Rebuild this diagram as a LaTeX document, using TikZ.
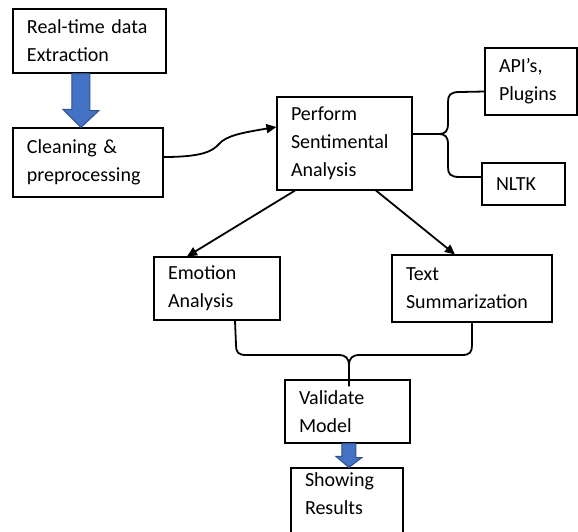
\documentclass[tikz,border=0pt]{standalone}
\usepackage{fontspec}
\setmainfont{Carlito}
\usetikzlibrary{arrows.meta,calc}
\definecolor{arrowblue}{HTML}{4472C4}
\definecolor{arrowedge}{HTML}{2F528F}
\begin{document}
\begin{tikzpicture}[x=1pt,y=-1pt,
  box/.style={draw, line width=1.1pt, rectangle, inner xsep=14pt, inner ysep=2pt, align=left, font=\fontsize{20}{28}\selectfont},
  conn/.style={line width=1.8pt},
  arr/.style={conn, -{Triangle[length=10pt,width=9pt]}},
  blockarrow/.style={fill=arrowblue, draw=arrowedge, line width=1pt, line join=miter}]
\useasboundingbox (0,0) rectangle (578,531);

\node[box, minimum width=153pt, text width=125pt, minimum height=64pt] (a) at (89.5,41) {Real-time data\\Extraction};
\node[box, minimum width=150pt, text width=122pt, minimum height=69pt] (b) at (88,162.5) {Cleaning \&\\preprocessing};
\node[box, minimum width=135pt, text width=107pt, minimum height=93pt] (c) at (344.5,143.5) {Perform\\Sentimental\\Analysis};
\node[box, minimum width=92pt, text width=64pt, minimum height=67pt] (d) at (531,81.5) {API’s,\\Plugins};
\node[box, minimum width=83pt, text width=55pt, minimum height=42pt] (e) at (523.5,184) {NLTK};
\node[box, minimum width=126pt, text width=98pt, minimum height=63pt] (f) at (217,288.5) {Emotion\\Analysis};
\node[box, minimum width=160pt, text width=132pt, minimum height=67pt] (g) at (472,288.5) {Text\\Summarization};
\node[box, minimum width=125pt, text width=97pt, minimum height=63pt] (h) at (347.5,411.5) {Validate\\Model};
\node[box, minimum width=112pt, text width=84pt, minimum height=80pt] (i) at (347,508) {Showing\\Results\\\mbox{}};

% block arrow a -> b
\coordinate (t1) at ($(b.north west)+(68.5,0)$);
\draw[blockarrow] ($(a.south west)+(59.5,0)$) -- ++(18,0) -- ++(0,37) -- ++(9,0) -- (t1) -- ++(-18,-18) -- ++(9,0) -- cycle;

% block arrow h -> i
\coordinate (t2) at ($(i.north west)+(58.5,0)$);
\draw[blockarrow] ($(h.south west)+(57.5,0)$) -- ++(14,0) -- ++(0,14) -- ++(6,0) -- (t2) -- ++(-13,-11) -- ++(6,0) -- cycle;

% curved connector b -> c
\draw[arr] ($(b.east)+(0,-5.5)$) .. controls (200,157) and (212,152) .. (219,144) .. controls (226,136) and (240,133) .. ($(c.west)+(0,-16.5)$);

% brace c -> d, e
\coordinate (br) at (438,134);
\draw[conn] ($(c.east)+(0,-9.5)$) -- (br) .. controls (446,134) and (448,131) .. (448,123) -- (448,102) .. controls (448,95) and (450,92) .. (460,92) -- ($(d.west)+(0,10)$);
\draw[conn] (br) .. controls (446,134) and (448,137) .. (448,145) -- (448,167) .. controls (448,174) and (450,177) .. (460,177) -- ($(e.west)+(0,-7)$);

% c -> f, g
\draw[arr] ($(c.south)+(-49.5,0)$) -- ($(f.north)+(-30,0)$);
\draw[arr] ($(c.south)+(31.5,0)$) -- ($(g.north)+(-17,0)$);

% brace f, g -> h
\coordinate (mid) at (349,366);
\draw[conn] ($(f.south)+(18,0)$) -- (236,345) .. controls (236,352) and (238,355) .. (246,355) -- (338,355) .. controls (346,355) and (349,358) .. (mid) -- ($(h.north)+(1.5,7)$);
\draw[conn] (g.south) -- (472,345) .. controls (472,352) and (470,355) .. (462,355) -- (360,355) .. controls (352,355) and (349,358) .. (mid);
\end{tikzpicture}
\end{document}
